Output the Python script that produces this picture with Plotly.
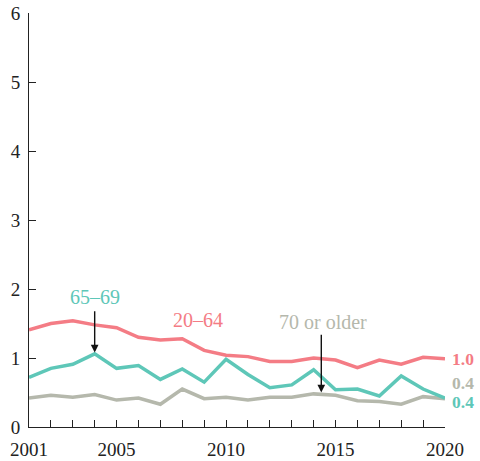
import plotly.graph_objects as go

years = list(range(2001, 2021))
age_20_64 = [1.41, 1.50, 1.54, 1.48, 1.44, 1.30, 1.26, 1.28, 1.11, 1.04,
             1.02, 0.95, 0.95, 1.00, 0.97, 0.86, 0.97, 0.91, 1.01, 0.99]
age_65_69 = [0.72, 0.85, 0.91, 1.06, 0.85, 0.89, 0.69, 0.84, 0.65, 0.98,
             0.76, 0.57, 0.61, 0.83, 0.54, 0.55, 0.45, 0.74, 0.55, 0.42]
age_70_up = [0.42, 0.46, 0.43, 0.47, 0.39, 0.42, 0.33, 0.55, 0.41, 0.43,
             0.39, 0.43, 0.43, 0.48, 0.46, 0.38, 0.37, 0.33, 0.44, 0.41]

series_names = ["20–64", "65–69", "70 or older"]
colors = {"20–64": "#F47C85", "65–69": "#5EC7B8", "70 or older": "#B5B8AC"}
end_labels = {"20–64": "1.0", "65–69": "0.4", "70 or older": "0.4"}

x_tick_labels = {2001: "2001", 2005: "2005", 2010: "2010", 2015: "2015", 2020: "2020"}

FONT = "Liberation Serif"
AXIS = "#222222"

fig = go.Figure()
for name, vals in [("70 or older", age_70_up), ("65–69", age_65_69), ("20–64", age_20_64)]:
    fig.add_trace(go.Scatter(
        x=years, y=vals, mode="lines", name=name,
        line=dict(color=colors[name], width=3.5),
        hoverinfo="skip",
    ))

annotations = []
# Series name labels
annotations.append(dict(x=2004, y=1.88, text="65–69", showarrow=False,
                        font=dict(family=FONT, size=20, color=colors["65–69"])))
annotations.append(dict(x=2008.7, y=1.55, text="20–64", showarrow=False,
                        font=dict(family=FONT, size=20, color=colors["20–64"])))
annotations.append(dict(x=2014.45, y=1.52, text="70 or older", showarrow=False,
                        font=dict(family=FONT, size=20, color=colors["70 or older"])))

# Pointer arrows
annotations.append(dict(x=2004, y=age_65_69[3] + 0.02, ax=2004, ay=1.70,
                        axref="x", ayref="y", xref="x", yref="y", text="",
                        showarrow=True, arrowhead=2, arrowsize=1.1, arrowwidth=1.4,
                        arrowcolor="#111111"))
annotations.append(dict(x=2014.35, y=0.50, ax=2014.35, ay=1.36,
                        axref="x", ayref="y", xref="x", yref="y", text="",
                        showarrow=True, arrowhead=2, arrowsize=1.1, arrowwidth=1.4,
                        arrowcolor="#111111"))

# End-of-line value labels, stacked beside the last point of the top line
end_shift = {"20–64": 0, "70 or older": -24, "65–69": -43}
for name in series_names:
    annotations.append(dict(
        x=2020, y=age_20_64[-1],
        yshift=end_shift[name], xanchor="left", xshift=5,
        text="<b>%s</b>" % end_labels[name], showarrow=False,
        font=dict(family=FONT, size=17.5, color=colors[name]),
    ))

fig.update_layout(
    width=480, height=461,
    margin=dict(l=29, r=35, t=13, b=34, autoexpand=False),
    paper_bgcolor="white", plot_bgcolor="white",
    showlegend=False,
    font=dict(family=FONT, size=19, color=AXIS),
    annotations=annotations,
    xaxis=dict(
        range=[2001, 2020],
        tickvals=years,
        ticktext=[x_tick_labels.get(y, "") for y in years],
        ticks="inside", ticklen=7, tickwidth=1, tickcolor=AXIS,
        showline=True, linecolor=AXIS, linewidth=1,
        showgrid=False, zeroline=False,
        tickfont=dict(family=FONT, size=19, color=AXIS),
        ticklabelstandoff=5,
        automargin=False,
        fixedrange=True,
    ),
    yaxis=dict(
        range=[0, 6],
        tickvals=[0, 1, 2, 3, 4, 5, 6],
        ticks="inside", ticklen=7, tickwidth=1, tickcolor=AXIS,
        showline=True, linecolor=AXIS, linewidth=1,
        showgrid=False, zeroline=False,
        tickfont=dict(family=FONT, size=19, color=AXIS),
        ticklabelstandoff=4,
        automargin=False,
        fixedrange=True,
    ),
)

fig.write_html("out.html")
